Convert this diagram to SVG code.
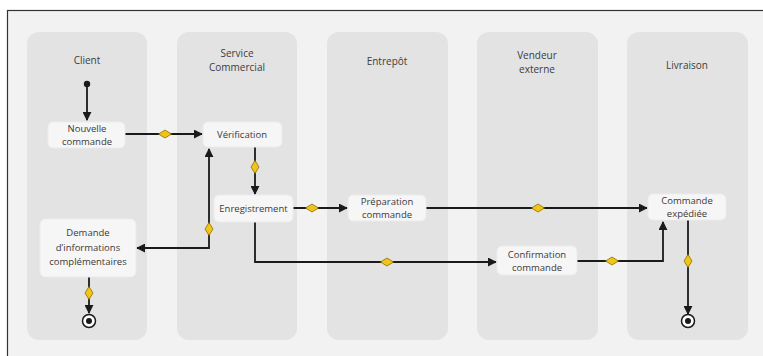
<svg xmlns="http://www.w3.org/2000/svg" width="763" height="356" viewBox="0 0 763 356">
<style>
.lane{fill:#e3e3e3}
.title{font-family:"Open Sans","Noto Sans",sans-serif;font-size:10px;fill:#3c3c3c;text-anchor:middle}
.box{fill:#f6f6f6;stroke:#ececec;stroke-width:1}
.lbl{font-family:"Open Sans","Noto Sans",sans-serif;font-size:9.5px;fill:#3a3a3a;text-anchor:middle}
.ln{fill:none;stroke:#1a1a1a;stroke-width:1.8}
.dh{fill:#f0c419;stroke:#8a6d00;stroke-width:0.8}
</style>
<defs>
<marker id="arr" viewBox="0 0 10 10" refX="9" refY="5" markerWidth="5" markerHeight="5" markerUnits="strokeWidth" orient="auto-start-reverse">
<path d="M0,0 L10,5 L0,10 z" fill="#1a1a1a"/>
</marker>
<path id="dH" d="M-6.5,0 L0,-4 L6.5,0 L0,4 z"/>
<path id="dV" d="M0,-6.5 L4,0 L0,6.5 L-4,0 z"/>
</defs>
<rect x="0" y="0" width="763" height="356" fill="#ffffff"/>
<rect x="7.5" y="10.5" width="800" height="400" fill="#f2f2f2" stroke="#333333" stroke-width="1.2"/>
<g id="lanes">
<g id="lane-client"><rect class="lane" x="27" y="32" width="120" height="308" rx="12"/><text class="title" x="87" y="64">Client</text></g>
<g id="lane-service"><rect class="lane" x="177" y="32" width="120" height="308" rx="12"/><text class="title" x="237" y="57">Service</text><text class="title" x="237" y="71">Commercial</text></g>
<g id="lane-entrepot"><rect class="lane" x="327" y="32" width="121" height="308" rx="12"/><text class="title" x="387" y="65">Entrepôt</text></g>
<g id="lane-vendeur"><rect class="lane" x="477" y="32" width="121" height="308" rx="12"/><text class="title" x="537" y="59">Vendeur</text><text class="title" x="537" y="73">externe</text></g>
<g id="lane-livraison"><rect class="lane" x="627" y="32" width="121" height="308" rx="12"/><text class="title" x="687" y="69">Livraison</text></g>
</g>
<g id="connectors">
<circle cx="87" cy="84" r="3.2" fill="#1a1a1a"/>
<path class="ln" d="M87,84 V120" marker-end="url(#arr)"/>
<path class="ln" d="M125,134 H202" marker-end="url(#arr)"/>
<use href="#dH" class="dh" x="165" y="134"/>
<path class="ln" d="M255,147 V194" marker-end="url(#arr)"/>
<use href="#dV" class="dh" x="255" y="167"/>
<path class="ln" d="M137,248 H209 V149" marker-start="url(#arr)" marker-end="url(#arr)"/>
<use href="#dV" class="dh" x="209" y="229"/>
<path class="ln" d="M293,208 H347" marker-end="url(#arr)"/>
<use href="#dH" class="dh" x="312" y="208"/>
<path class="ln" d="M426,208 H647" marker-end="url(#arr)"/>
<use href="#dH" class="dh" x="538" y="208"/>
<path class="ln" d="M255,222 V262 H496" marker-end="url(#arr)"/>
<use href="#dH" class="dh" x="387" y="262"/>
<path class="ln" d="M577,261 H663 V222" marker-end="url(#arr)"/>
<use href="#dH" class="dh" x="612" y="261"/>
<path class="ln" d="M688,220 V314" marker-end="url(#arr)"/>
<use href="#dV" class="dh" x="688" y="261"/>
<path class="ln" d="M89,277 V313" marker-end="url(#arr)"/>
<use href="#dV" class="dh" x="89" y="293"/>
</g>
<g id="n-nouvelle"><rect class="box" x="48" y="122" width="77" height="26" rx="5"/><text class="lbl" x="87" y="132">Nouvelle</text><text class="lbl" x="87" y="145">commande</text></g>
<g id="n-verification"><rect class="box" x="203" y="122" width="79" height="25" rx="5"/><text class="lbl" x="242" y="138">Vérification</text></g>
<g id="n-enregistrement"><rect class="box" x="214" y="195" width="79" height="27" rx="5"/><text class="lbl" x="253.5" y="212">Enregistrement</text></g>
<g id="n-preparation"><rect class="box" x="348" y="195" width="78" height="26" rx="5"/><text class="lbl" x="387" y="204.5">Préparation</text><text class="lbl" x="387" y="217.5">commande</text></g>
<g id="n-demande"><rect class="box" x="40" y="219" width="96" height="58" rx="5"/><text class="lbl" x="88" y="236">Demande</text><text class="lbl" x="88" y="251">d’informations</text><text class="lbl" x="88" y="265">complémentaires</text></g>
<g id="n-confirmation"><rect class="box" x="497" y="246" width="80" height="29" rx="5"/><text class="lbl" x="537" y="257.5">Confirmation</text><text class="lbl" x="537" y="271">commande</text></g>
<g id="n-expediee"><rect class="box" x="648" y="194" width="78" height="26" rx="5"/><text class="lbl" x="687" y="203.5">Commande</text><text class="lbl" x="687" y="216.5">expédiée</text></g>
<g id="end-client"><circle cx="89" cy="321" r="6.5" fill="#ffffff" stroke="#1a1a1a" stroke-width="1.5"/><circle cx="89" cy="321" r="3" fill="#1a1a1a"/></g>
<g id="end-livraison"><circle cx="688" cy="321" r="6.5" fill="#ffffff" stroke="#1a1a1a" stroke-width="1.5"/><circle cx="688" cy="321" r="3" fill="#1a1a1a"/></g>
</svg>
